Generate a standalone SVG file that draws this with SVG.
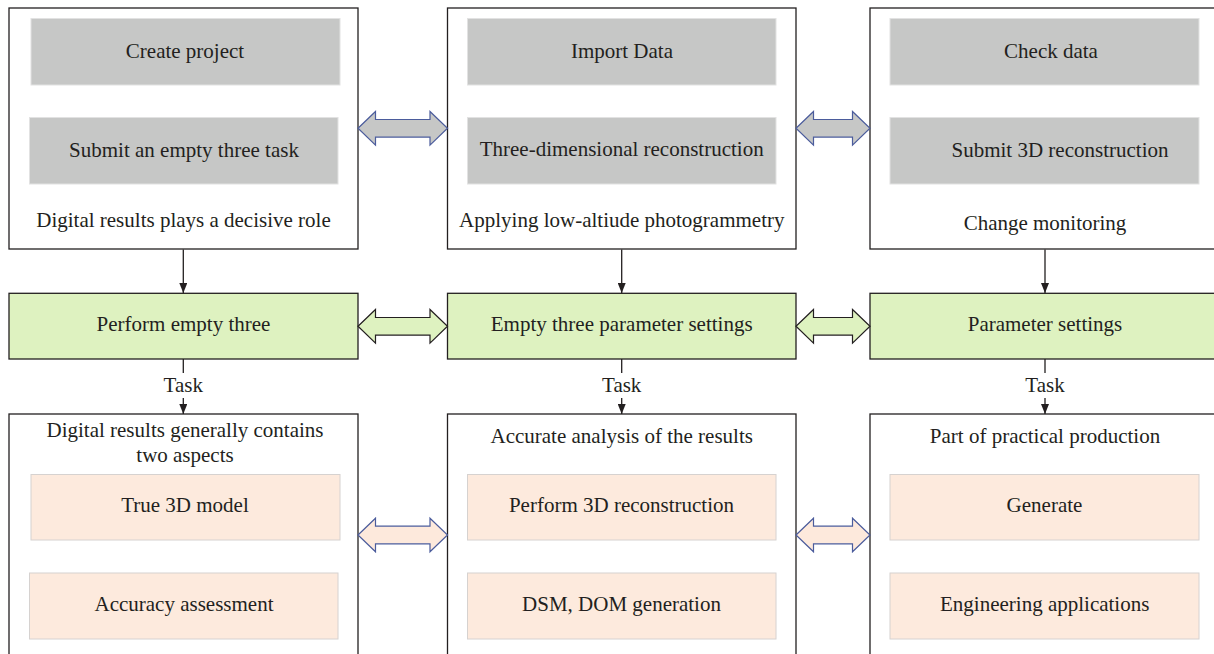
<svg xmlns="http://www.w3.org/2000/svg" width="1214" height="654" viewBox="0 0 1214 654">
<defs>
<style>
.outer{fill:#ffffff;stroke:#231f20;stroke-width:1.3}
.gray{fill:#c6c7c6;stroke:#e2e2e2;stroke-width:1}
.peach{fill:#fdeadd;stroke:#d6d2d0;stroke-width:1}
.green{fill:#def2c0;stroke:#231f20;stroke-width:1.3}
.t{font-family:"Liberation Serif","Times New Roman",serif;font-size:21px;fill:#231f20;text-anchor:middle}
.conn{stroke:#231f20;stroke-width:1.3;fill:none}
.dg{fill:#c6c7c6;stroke:#4b5c9c;stroke-width:1.2}
.dgr{fill:#def2c0;stroke:#231f20;stroke-width:1.2}
.dp{fill:#fde9dc;stroke:#4b5c9c;stroke-width:1.2}
</style>
<marker id="ah" markerWidth="10" markerHeight="8" refX="10" refY="4" orient="auto" markerUnits="userSpaceOnUse">
<path d="M0,0 L10,4 L0,8 Z" fill="#231f20"/>
</marker>
</defs>
<rect width="1214" height="654" fill="#ffffff"/>

<g id="box-top-1">
<rect class="outer" x="9" y="8" width="349" height="241"/>
<rect class="gray" x="31" y="18.5" width="309" height="66.5"/>
<rect class="gray" x="29.5" y="117.5" width="308.5" height="66.5"/>
<text class="t" x="185" y="58.3">Create project</text>
<text class="t" x="184" y="156.7">Submit an empty three task</text>
<text class="t" x="183.5" y="226.7">Digital results plays a decisive role</text>
</g>

<g id="box-top-2">
<rect class="outer" x="447.5" y="8" width="348.5" height="241"/>
<rect class="gray" x="467.5" y="18.5" width="308.5" height="66.5"/>
<rect class="gray" x="467.5" y="117.5" width="308.5" height="66.5"/>
<text class="t" x="622" y="58.3">Import Data</text>
<text class="t" x="621.7" y="156.3">Three-dimensional reconstruction</text>
<text class="t" x="621.8" y="226.7">Applying low-altiude photogrammetry</text>
</g>

<g id="box-top-3">
<rect class="outer" x="870" y="8" width="360" height="241"/>
<rect class="gray" x="890" y="18.5" width="309" height="66.5"/>
<rect class="gray" x="890" y="117.5" width="309" height="66.5"/>
<text class="t" x="1051" y="58.3">Check data</text>
<text class="t" x="1060" y="156.7">Submit 3D reconstruction</text>
<text class="t" x="1045" y="229.5">Change monitoring</text>
</g>

<g id="green-1">
<rect class="green" x="9" y="293.3" width="349" height="65.7"/>
<text class="t" x="183.5" y="331">Perform empty three</text>
</g>
<g id="green-2">
<rect class="green" x="447.5" y="293.3" width="348.5" height="65.7"/>
<text class="t" x="621.7" y="331">Empty three parameter settings</text>
</g>
<g id="green-3">
<rect class="green" x="870" y="293.3" width="360" height="65.7"/>
<text class="t" x="1045" y="331">Parameter settings</text>
</g>

<g id="box-bottom-1">
<rect class="outer" x="9" y="414" width="349" height="260"/>
<text class="t" x="185" y="436.7">Digital results generally contains</text>
<text class="t" x="185" y="462.3">two aspects</text>
<rect class="peach" x="31" y="474.5" width="309" height="65.5"/>
<rect class="peach" x="29.5" y="573" width="308.5" height="66"/>
<text class="t" x="185" y="512.3">True 3D model</text>
<text class="t" x="184" y="611">Accuracy assessment</text>
</g>

<g id="box-bottom-2">
<rect class="outer" x="447.5" y="414" width="348.5" height="260"/>
<text class="t" x="621.7" y="442.7">Accurate analysis of the results</text>
<rect class="peach" x="467.5" y="474.5" width="308.5" height="65.5"/>
<rect class="peach" x="467.5" y="573" width="308.5" height="66"/>
<text class="t" x="621.5" y="512.3">Perform 3D reconstruction</text>
<text class="t" x="621.5" y="611">DSM, DOM generation</text>
</g>

<g id="box-bottom-3">
<rect class="outer" x="870" y="414" width="360" height="260"/>
<text class="t" x="1045" y="442.7">Part of practical production</text>
<rect class="peach" x="890" y="474.5" width="309" height="65.5"/>
<rect class="peach" x="890" y="573" width="309" height="66"/>
<text class="t" x="1044.5" y="512.3">Generate</text>
<text class="t" x="1044.7" y="611">Engineering applications</text>
</g>

<g id="connectors">
<line class="conn" x1="183.3" y1="249.5" x2="183.3" y2="293" marker-end="url(#ah)"/>
<line class="conn" x1="621.7" y1="249.5" x2="621.7" y2="293" marker-end="url(#ah)"/>
<line class="conn" x1="1045" y1="249.5" x2="1045" y2="293" marker-end="url(#ah)"/>

<line class="conn" x1="183.3" y1="359" x2="183.3" y2="373"/>
<line class="conn" x1="183.3" y1="398" x2="183.3" y2="414" marker-end="url(#ah)"/>
<text class="t" x="183.3" y="391.7">Task</text>
<line class="conn" x1="621.7" y1="359" x2="621.7" y2="373"/>
<line class="conn" x1="621.7" y1="398" x2="621.7" y2="414" marker-end="url(#ah)"/>
<text class="t" x="621.7" y="391.7">Task</text>
<line class="conn" x1="1045" y1="359" x2="1045" y2="373"/>
<line class="conn" x1="1045" y1="398" x2="1045" y2="414" marker-end="url(#ah)"/>
<text class="t" x="1045" y="391.7">Task</text>

<path class="dg" transform="translate(0,128.3)" d="M358,0 L375.5,-16.8 L375.5,-8.8 L430,-8.8 L430,-16.8 L447.5,0 L430,16.8 L430,8.8 L375.5,8.8 L375.5,16.8 Z"/>
<path class="dg" transform="translate(0,128.3)" d="M796,0 L813.5,-16.8 L813.5,-8.8 L852.5,-8.8 L852.5,-16.8 L870,0 L852.5,16.8 L852.5,8.8 L813.5,8.8 L813.5,16.8 Z"/>
<path class="dgr" transform="translate(0,326.3)" d="M358,0 L375.5,-16.8 L375.5,-8.8 L430,-8.8 L430,-16.8 L447.5,0 L430,16.8 L430,8.8 L375.5,8.8 L375.5,16.8 Z"/>
<path class="dgr" transform="translate(0,326.3)" d="M796,0 L813.5,-16.8 L813.5,-8.8 L852.5,-8.8 L852.5,-16.8 L870,0 L852.5,16.8 L852.5,8.8 L813.5,8.8 L813.5,16.8 Z"/>
<path class="dp" transform="translate(0,535)" d="M358,0 L375.5,-16.8 L375.5,-8.8 L430,-8.8 L430,-16.8 L447.5,0 L430,16.8 L430,8.8 L375.5,8.8 L375.5,16.8 Z"/>
<path class="dp" transform="translate(0,535)" d="M796,0 L813.5,-16.8 L813.5,-8.8 L852.5,-8.8 L852.5,-16.8 L870,0 L852.5,16.8 L852.5,8.8 L813.5,8.8 L813.5,16.8 Z"/>
</g>
</svg>
